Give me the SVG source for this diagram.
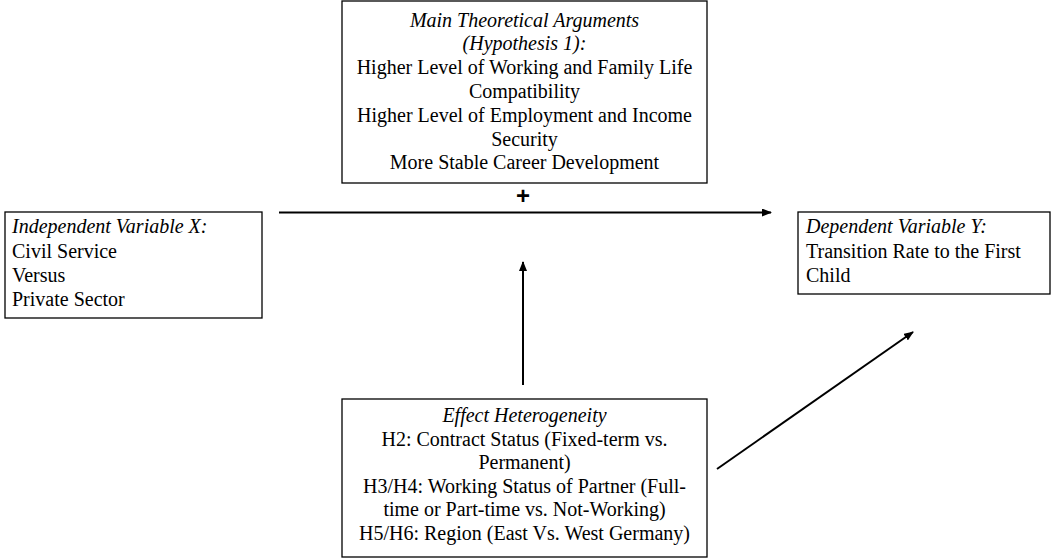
<svg xmlns="http://www.w3.org/2000/svg" width="1052" height="558" viewBox="0 0 1052 558" font-family="'Liberation Serif', 'DejaVu Serif', serif">
<style>
.box{fill:#fff;stroke:#000;stroke-width:1.3}
.t{font-family:'Liberation Serif','DejaVu Serif',serif;font-size:20px;fill:#000}
.c{text-anchor:middle}
.i{font-style:italic}
.conn{stroke:#000;stroke-width:2;fill:none}
.plus{font-family:'Liberation Sans','DejaVu Sans',sans-serif;font-weight:bold;font-size:24px;fill:#000}
</style>
<defs>
<marker id="ah" markerWidth="10" markerHeight="8" refX="9" refY="4" orient="auto" markerUnits="userSpaceOnUse">
<path d="M0,0 L10,4 L0,8 Z" fill="#000"/>
</marker>
</defs>
<rect width="1052" height="558" fill="#fff"/>
<g id="theory">
<rect class="box" x="342" y="1" width="365" height="182"/>
<text class="t c i" x="524.5" y="26.5">Main Theoretical Arguments</text>
<text class="t c i" x="524.5" y="50.3">(Hypothesis 1):</text>
<text class="t c" x="524.5" y="74.1">Higher Level of Working and Family Life</text>
<text class="t c" x="524.5" y="97.9">Compatibility</text>
<text class="t c" x="524.5" y="121.7">Higher Level of Employment and Income</text>
<text class="t c" x="524.5" y="145.5">Security</text>
<text class="t c" x="524.5" y="169.3">More Stable Career Development</text>
</g>
<g id="independent">
<rect class="box" x="5" y="212" width="257" height="106"/>
<text class="t i" x="12" y="233">Independent Variable X:</text>
<text class="t" x="12" y="257.5">Civil Service</text>
<text class="t" x="12" y="282">Versus</text>
<text class="t" x="12" y="306">Private Sector</text>
</g>
<g id="dependent">
<rect class="box" x="798" y="212" width="252" height="82"/>
<text class="t i" x="806" y="233">Dependent Variable Y:</text>
<text class="t" x="806" y="257.5">Transition Rate to the First</text>
<text class="t" x="806" y="282">Child</text>
</g>
<g id="heterogeneity">
<rect class="box" x="342" y="399" width="365" height="158"/>
<text class="t c i" x="524.5" y="422">Effect Heterogeneity</text>
<text class="t c" x="524.5" y="445.6">H2: Contract Status (Fixed-term vs.</text>
<text class="t c" x="524.5" y="469.2">Permanent)</text>
<text class="t c" x="524.5" y="492.8">H3/H4: Working Status of Partner (Full-</text>
<text class="t c" x="524.5" y="516.4">time or Part-time vs. Not-Working)</text>
<text class="t c" x="524.5" y="540">H5/H6: Region (East Vs. West Germany)</text>
</g>
<g id="connectors">
<line class="conn" x1="279" y1="212.5" x2="771" y2="212.5" marker-end="url(#ah)"/>
<text class="plus c" x="523" y="204">+</text>
<line class="conn" x1="523" y1="385" x2="523" y2="262" marker-end="url(#ah)"/>
<line class="conn" x1="717" y1="469" x2="913" y2="332" marker-end="url(#ah)"/>
</g>
</svg>
